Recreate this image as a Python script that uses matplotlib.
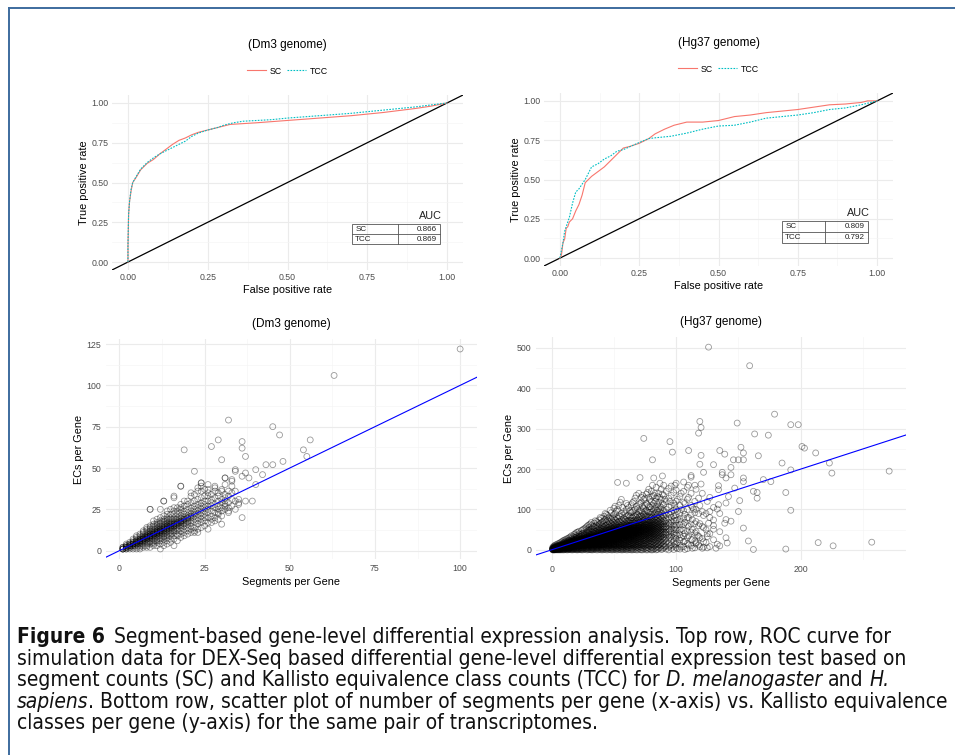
import matplotlib
matplotlib.use('Agg')
import matplotlib.pyplot as plt
from matplotlib.lines import Line2D
from matplotlib.patches import Rectangle

plt.rcParams['font.family'] = ['Liberation Sans', 'DejaVu Sans']

# ---------------- data ----------------
# ROC curves (false positive rate, true positive rate)
dm3_sc_fpr = [0, 0, 0.002, 0.005, 0.01, 0.015, 0.025, 0.04, 0.06, 0.08, 0.1, 0.12, 0.14, 0.16, 0.18, 0.2,
              0.22, 0.25, 0.28, 0.3, 0.32, 0.4, 0.5, 0.6, 0.7, 0.8, 0.9, 0.95, 1.0]
dm3_sc_tpr = [0, 0.1, 0.3, 0.38, 0.45, 0.5, 0.53, 0.58, 0.62, 0.645, 0.68, 0.71, 0.74, 0.765, 0.78, 0.8,
              0.815, 0.83, 0.845, 0.855, 0.865, 0.875, 0.89, 0.905, 0.92, 0.94, 0.965, 0.98, 1.0]
dm3_tcc_fpr = [0, 0, 0.002, 0.005, 0.01, 0.015, 0.025, 0.04, 0.06, 0.08, 0.1, 0.12, 0.14, 0.16, 0.18, 0.2,
               0.22, 0.25, 0.28, 0.3, 0.33, 0.36, 0.45, 0.5, 0.6, 0.7, 0.8, 0.9, 1.0]
dm3_tcc_tpr = [0, 0.1, 0.3, 0.38, 0.46, 0.5, 0.535, 0.585, 0.625, 0.655, 0.68, 0.7, 0.72, 0.74, 0.76, 0.79,
               0.81, 0.83, 0.845, 0.86, 0.875, 0.885, 0.895, 0.905, 0.92, 0.935, 0.955, 0.975, 1.0]

hg_sc_fpr = [0, 0.005, 0.01, 0.015, 0.02, 0.025, 0.03, 0.04, 0.05, 0.06, 0.07, 0.08, 0.09, 0.1, 0.12, 0.14,
             0.16, 0.18, 0.2, 0.22, 0.25, 0.28, 0.3, 0.33, 0.36, 0.4, 0.45, 0.5, 0.55, 0.6, 0.65, 0.7,
             0.75, 0.8, 0.85, 0.9, 0.95, 0.97, 1.0]
hg_sc_tpr = [0, 0.02, 0.1, 0.12, 0.19, 0.2, 0.23, 0.25, 0.3, 0.34, 0.4, 0.48, 0.5, 0.52, 0.55, 0.58,
             0.62, 0.66, 0.7, 0.71, 0.73, 0.76, 0.79, 0.82, 0.845, 0.865, 0.865, 0.875, 0.9, 0.91, 0.925, 0.935,
             0.945, 0.96, 0.975, 0.98, 0.99, 1.0, 1.0]
hg_tcc_fpr = [0, 0.005, 0.01, 0.015, 0.02, 0.03, 0.04, 0.05, 0.06, 0.07, 0.08, 0.1, 0.12, 0.14, 0.16, 0.18,
              0.2, 0.25, 0.28, 0.3, 0.35, 0.4, 0.45, 0.5, 0.55, 0.6, 0.65, 0.7, 0.75, 0.8, 0.85, 0.9,
              0.95, 1.0]
hg_tcc_tpr = [0, 0.05, 0.1, 0.17, 0.2, 0.26, 0.35, 0.42, 0.44, 0.47, 0.5, 0.58, 0.6, 0.63, 0.65, 0.68,
              0.69, 0.735, 0.76, 0.765, 0.775, 0.795, 0.82, 0.84, 0.845, 0.865, 0.89, 0.9, 0.91, 0.925, 0.945, 0.955,
              0.975, 1.0]

dm3_auc = [('SC', '0.866'), ('TCC', '0.869')]
hg_auc = [('SC', '0.809'), ('TCC', '0.792')]

# Dm3 scatter: segments per gene -> ECs per gene (one list of ECs for each segment count)
dm3_seg_cols = list(range(1, 36))
dm3_ec_cols = [
    [1, 1, 1, 1, 2, 2],
    [1, 1, 2, 2, 2, 3, 3, 4],
    [1, 2, 2, 3, 3, 3, 4, 4, 5],
    [1, 2, 3, 3, 4, 4, 4, 5, 5, 6, 7],
    [1, 2, 3, 4, 4, 5, 5, 5, 6, 6, 7, 8, 9],
    [1, 2, 3, 4, 5, 5, 6, 6, 6, 7, 7, 8, 9, 10],
    [2, 3, 4, 5, 6, 6, 7, 7, 7, 8, 8, 9, 10, 11, 12],
    [2, 3, 4, 5, 6, 7, 7, 8, 8, 8, 9, 9, 10, 11, 12, 13, 14],
    [2, 4, 5, 6, 7, 8, 8, 9, 9, 9, 10, 10, 11, 12, 13, 14, 15, 25],
    [3, 4, 5, 6, 7, 8, 9, 9, 10, 10, 10, 11, 11, 12, 13, 14, 15, 16, 18],
    [3, 5, 6, 7, 8, 9, 10, 10, 11, 11, 11, 12, 12, 13, 14, 15, 16, 17, 19],
    [1, 4, 6, 7, 8, 9, 10, 11, 11, 12, 12, 12, 13, 13, 14, 15, 16, 17, 18, 20, 25],
    [3, 5, 7, 8, 9, 10, 11, 12, 12, 13, 13, 14, 14, 15, 16, 17, 18, 19, 21, 30],
    [4, 6, 8, 9, 10, 11, 12, 13, 13, 14, 14, 15, 15, 16, 17, 18, 19, 20, 22, 24],
    [5, 7, 9, 10, 11, 12, 13, 14, 14, 15, 15, 16, 16, 17, 18, 19, 20, 22, 25],
    [3, 7, 9, 11, 12, 13, 14, 15, 15, 16, 16, 17, 18, 19, 20, 22, 24, 26, 32, 33],
    [6, 9, 10, 12, 13, 14, 15, 16, 16, 17, 17, 18, 19, 20, 22, 24, 26],
    [8, 10, 12, 14, 15, 16, 17, 17, 18, 18, 19, 20, 21, 23, 25, 26, 28, 39],
    [9, 11, 13, 15, 16, 17, 18, 19, 19, 20, 22, 24, 27, 30],
    [10, 12, 14, 16, 17, 18, 19, 20, 20, 21, 23, 25, 28, 30],
    [11, 13, 15, 17, 18, 20, 21, 22, 24, 26, 29, 33, 35],
    [11, 12, 14, 17, 19, 21, 22, 23, 25, 27, 30, 34],
    [11, 13, 16, 18, 20, 22, 24, 26, 28, 31, 36, 38],
    [14, 17, 19, 21, 23, 25, 27, 29, 32, 36, 39, 41],
    [15, 18, 20, 22, 24, 26, 28, 30, 33, 37],
    [13, 17, 20, 23, 25, 27, 30, 33, 35, 37],
    [17, 19, 21, 24, 27, 29, 31, 34],
    [18, 20, 23, 26, 28, 32, 36, 38, 39],
    [19, 22, 25, 27, 30, 33, 35],
    [21, 24, 26, 29, 31, 36, 37],
    [25, 27, 28, 30, 32, 34, 40, 44],
    [24, 26, 29, 33, 36],
    [27, 31, 35, 39],
    [25, 30, 36],
    [29, 31],
]
dm3_out_seg = [100, 63, 32, 45, 47, 29, 56, 36, 27, 36, 19, 54, 37, 55, 30, 48, 43, 45, 40, 34, 34, 22,
               42, 37, 36, 38, 31, 33, 33, 40, 18, 39, 37, 35, 30, 36, 32, 29, 13, 9, 24, 26]
dm3_out_ec = [122, 106, 79, 75, 70, 67, 67, 66, 63, 62, 61, 61, 57, 57, 55, 54, 52, 52, 49, 49, 48, 48,
              46, 47, 45, 44, 44, 42, 43, 40, 39, 30, 30, 28, 16, 20, 23, 23, 30, 25, 41, 40]

# Hg37 scatter, main columns
hg_seg_cols = [1, 2, 3, 4, 5, 6, 7, 8, 10, 12, 14, 16, 18, 20, 22, 24, 26, 28, 30, 32, 34, 36, 38, 40,
               42, 44, 46, 48, 50, 52, 54, 56, 58, 60, 62, 64, 66, 68, 70, 72, 74, 76, 78, 80, 82, 84,
               86, 88, 90, 92, 94, 96, 98, 100, 103, 106, 109, 112, 115, 118, 121, 124, 127, 130, 135, 140]
hg_ec_cols = [
    [0, 0, 1, 1, 2, 2, 3, 3, 4, 5, 7],
    [0, 0, 1, 1, 2, 2, 3, 3, 4, 5, 6, 8, 10],
    [0, 1, 1, 2, 2, 3, 3, 4, 4, 5, 6, 7, 9, 12],
    [0, 1, 2, 2, 3, 3, 4, 4, 5, 5, 6, 7, 8, 10, 13],
    [0, 1, 2, 3, 3, 4, 4, 5, 5, 6, 6, 7, 8, 9, 11, 15],
    [0, 1, 2, 3, 4, 4, 5, 5, 6, 6, 7, 7, 8, 9, 10, 12, 16],
    [0, 1, 2, 4, 5, 5, 6, 6, 7, 7, 8, 8, 9, 10, 11, 13, 18],
    [0, 2, 3, 4, 5, 6, 6, 7, 7, 8, 8, 9, 9, 10, 11, 12, 14, 20],
    [0, 1, 3, 4, 5, 6, 7, 8, 9, 10, 11, 12, 13, 14, 16, 19, 24],
    [0, 2, 3, 5, 6, 7, 8, 9, 10, 11, 12, 13, 14, 15, 16, 18, 21, 27],
    [1, 2, 4, 5, 7, 8, 9, 10, 11, 12, 13, 14, 15, 16, 17, 19, 21, 24, 30],
    [0, 2, 4, 6, 7, 9, 10, 11, 12, 13, 14, 15, 16, 17, 18, 20, 22, 25, 29, 35],
    [1, 3, 5, 7, 9, 10, 11, 13, 14, 15, 16, 17, 18, 19, 20, 22, 24, 27, 31, 38],
    [0, 2, 4, 6, 8, 10, 12, 13, 14, 15, 17, 18, 19, 20, 21, 23, 25, 28, 32, 36, 43],
    [1, 3, 5, 8, 10, 12, 14, 15, 16, 17, 18, 19, 21, 22, 23, 25, 27, 30, 34, 40, 46],
    [0, 2, 5, 7, 10, 12, 14, 15, 16, 18, 19, 20, 21, 23, 24, 26, 28, 31, 35, 39, 48],
    [1, 4, 6, 9, 11, 13, 15, 17, 18, 19, 21, 22, 23, 24, 26, 28, 30, 33, 37, 42, 52],
    [0, 3, 5, 8, 11, 13, 15, 17, 19, 20, 21, 23, 24, 25, 27, 29, 31, 34, 38, 44, 50, 57],
    [1, 4, 7, 10, 12, 15, 17, 19, 20, 22, 23, 25, 26, 28, 30, 32, 35, 39, 43, 48, 55, 62],
    [0, 2, 5, 8, 11, 14, 16, 18, 20, 22, 23, 25, 26, 28, 29, 31, 33, 36, 40, 45, 52, 60, 68],
    [1, 4, 7, 10, 13, 15, 18, 20, 22, 24, 25, 27, 29, 30, 32, 34, 37, 41, 46, 51, 58, 66],
    [0, 3, 6, 9, 12, 15, 18, 20, 22, 24, 26, 28, 29, 31, 33, 35, 38, 42, 47, 53, 61, 70],
    [2, 5, 8, 11, 14, 17, 20, 22, 24, 26, 28, 30, 32, 33, 35, 38, 41, 45, 50, 56, 63, 74],
    [0, 3, 7, 10, 13, 16, 19, 22, 24, 26, 28, 30, 32, 34, 36, 38, 41, 44, 48, 54, 60, 68, 78],
    [1, 5, 8, 12, 15, 18, 21, 24, 26, 28, 30, 32, 34, 36, 38, 40, 43, 47, 51, 57, 64, 72, 83],
    [0, 3, 6, 10, 14, 17, 20, 23, 26, 28, 30, 32, 34, 36, 38, 40, 42, 45, 49, 54, 61, 69, 79, 88],
    [2, 5, 9, 12, 16, 19, 22, 25, 28, 30, 32, 34, 36, 38, 40, 42, 44, 47, 51, 56, 62, 70, 81],
    [0, 4, 7, 11, 15, 18, 21, 24, 27, 30, 32, 34, 36, 38, 40, 42, 44, 46, 49, 53, 58, 65, 75, 92],
    [1, 5, 9, 13, 16, 20, 23, 26, 29, 32, 34, 36, 38, 40, 42, 44, 46, 48, 51, 55, 60, 67, 77, 87, 103],
    [0, 3, 7, 11, 15, 19, 22, 25, 28, 31, 34, 36, 38, 40, 42, 44, 46, 49, 52, 56, 62, 69, 80, 96],
    [2, 6, 10, 14, 18, 21, 25, 28, 31, 34, 37, 39, 41, 43, 45, 47, 50, 53, 57, 63, 71, 84, 110],
    [0, 4, 8, 12, 16, 20, 24, 27, 30, 33, 36, 38, 40, 42, 44, 46, 48, 51, 55, 60, 66, 75, 90, 125],
    [1, 5, 10, 14, 18, 22, 26, 29, 32, 35, 38, 40, 42, 44, 46, 48, 50, 53, 57, 62, 69, 78, 95],
    [0, 3, 8, 12, 17, 21, 25, 29, 32, 35, 38, 41, 43, 45, 47, 49, 52, 55, 59, 64, 71, 82, 100, 115],
    [2, 6, 11, 15, 20, 24, 28, 31, 34, 37, 40, 43, 45, 47, 49, 51, 54, 57, 61, 67, 74, 86, 105],
    [0, 4, 9, 14, 18, 23, 27, 31, 34, 37, 40, 43, 46, 48, 50, 53, 56, 60, 65, 71, 79, 92, 112],
    [1, 7, 12, 17, 21, 25, 29, 33, 36, 39, 42, 45, 48, 50, 52, 55, 58, 62, 67, 73, 83, 98, 120],
    [0, 5, 10, 15, 20, 25, 29, 33, 36, 40, 43, 46, 49, 51, 54, 57, 61, 66, 72, 80, 90, 108, 135],
    [3, 8, 13, 18, 23, 28, 32, 36, 40, 43, 46, 49, 52, 55, 58, 62, 67, 73, 81, 93, 112, 140],
    [0, 6, 12, 17, 22, 27, 32, 36, 40, 44, 47, 50, 53, 56, 60, 64, 69, 76, 85, 97, 118, 130],
    [2, 9, 15, 21, 26, 31, 35, 39, 43, 47, 50, 54, 57, 61, 66, 72, 79, 89, 102, 125],
    [0, 5, 12, 18, 24, 29, 34, 38, 42, 46, 50, 53, 57, 61, 65, 70, 77, 86, 98, 115, 138],
    [3, 10, 16, 22, 28, 33, 38, 42, 46, 50, 54, 58, 62, 67, 73, 81, 92, 107, 130, 150],
    [0, 7, 14, 20, 26, 31, 36, 41, 45, 49, 53, 57, 61, 66, 72, 79, 88, 101, 120, 145],
    [2, 9, 17, 24, 30, 35, 40, 45, 50, 55, 60, 65, 71, 78, 87, 99, 115, 135],
    [0, 6, 14, 22, 29, 35, 40, 46, 51, 56, 61, 67, 74, 82, 93, 108, 128, 155],
    [4, 12, 20, 28, 34, 40, 46, 52, 57, 63, 70, 78, 88, 101, 118, 140],
    [1, 9, 18, 26, 33, 40, 46, 52, 58, 64, 71, 80, 91, 105, 125, 150],
    [5, 14, 23, 31, 38, 45, 52, 58, 65, 73, 83, 96, 112, 135, 160],
    [2, 10, 20, 29, 37, 44, 51, 58, 66, 75, 86, 100, 120, 145],
    [0, 7, 17, 27, 36, 44, 52, 60, 68, 78, 90, 106, 128, 152],
    [4, 13, 24, 34, 43, 52, 61, 70, 81, 94, 110, 135, 158],
    [1, 9, 20, 31, 41, 51, 61, 72, 84, 98, 116, 142],
    [6, 16, 28, 39, 50, 61, 73, 86, 101, 120, 148, 165],
    [2, 12, 24, 37, 49, 62, 76, 92, 110, 132],
    [8, 20, 34, 48, 63, 79, 97, 118, 145, 168],
    [3, 15, 30, 46, 62, 80, 100, 125, 155],
    [10, 26, 44, 64, 86, 110, 140, 180],
    [5, 22, 42, 65, 92, 120, 160],
    [12, 34, 60, 90, 128],
    [4, 28, 58, 95, 140],
    [18, 50, 90],
    [8, 40, 80, 130],
    [25, 60, 105],
    [10, 45, 90],
    [30, 75],
]
# Hg37 scatter, in-between columns
hg_seg_cols2 = [9, 11, 13, 15, 17, 19, 21, 23, 25, 27, 29, 31, 33, 35, 37, 39, 41, 43, 45, 47, 49, 51, 53,
                55, 57, 59, 61, 63, 65, 67, 69, 71, 73, 75, 77, 79, 81, 83, 85, 87, 89, 91, 95, 99]
hg_ec_cols2 = [
    [0, 2, 4, 5, 6, 7, 8, 9, 10, 11, 12, 13, 15, 17, 22],
    [1, 3, 4, 6, 7, 8, 9, 10, 11, 12, 13, 14, 15, 17, 20, 25],
    [0, 2, 3, 5, 6, 8, 9, 10, 11, 12, 13, 14, 15, 16, 18, 20, 23, 28],
    [1, 3, 5, 6, 8, 9, 10, 11, 12, 13, 14, 15, 16, 17, 19, 21, 24, 32],
    [0, 2, 4, 6, 8, 10, 11, 12, 13, 14, 15, 16, 17, 18, 19, 21, 23, 26, 33],
    [1, 3, 6, 8, 10, 11, 12, 14, 15, 16, 17, 18, 19, 20, 22, 24, 26, 30, 40],
    [0, 2, 5, 7, 9, 11, 13, 14, 15, 16, 17, 18, 19, 20, 21, 23, 25, 28, 33, 44],
    [1, 4, 6, 9, 11, 13, 15, 16, 17, 18, 19, 20, 21, 22, 24, 26, 29, 33, 38],
    [0, 3, 5, 8, 10, 13, 15, 16, 17, 18, 20, 21, 22, 23, 25, 27, 30, 34, 41, 50],
    [2, 4, 7, 10, 12, 14, 16, 18, 19, 20, 22, 23, 24, 26, 28, 31, 35, 40, 54],
    [0, 3, 6, 9, 12, 14, 16, 18, 20, 21, 22, 24, 25, 27, 29, 32, 36, 42, 47, 60],
    [1, 5, 8, 11, 13, 16, 18, 20, 21, 23, 24, 26, 27, 29, 31, 34, 38, 44, 51, 64],
    [0, 3, 6, 9, 12, 15, 17, 19, 21, 23, 25, 26, 28, 30, 32, 35, 39, 44, 49, 57],
    [2, 5, 8, 11, 14, 17, 19, 21, 23, 25, 27, 28, 30, 32, 34, 37, 41, 46, 55, 72],
    [0, 4, 7, 10, 13, 16, 19, 21, 23, 25, 27, 29, 30, 32, 34, 37, 40, 44, 50, 58, 67],
    [1, 5, 9, 12, 15, 18, 21, 23, 25, 27, 29, 31, 33, 35, 37, 40, 43, 48, 53, 65, 80],
    [0, 3, 7, 11, 14, 17, 20, 23, 25, 27, 29, 31, 33, 35, 37, 39, 42, 46, 52, 59, 70],
    [2, 6, 9, 13, 16, 19, 22, 25, 27, 29, 31, 33, 35, 37, 39, 41, 44, 48, 53, 60, 75, 90],
    [0, 4, 8, 11, 15, 18, 21, 24, 27, 29, 31, 33, 35, 37, 39, 41, 43, 46, 50, 55, 63, 73, 85],
    [1, 5, 10, 13, 17, 20, 23, 26, 29, 31, 33, 35, 37, 39, 41, 43, 45, 48, 52, 58, 66, 78, 98],
    [0, 3, 8, 12, 16, 19, 22, 25, 28, 31, 33, 35, 37, 39, 41, 43, 45, 47, 50, 54, 60, 70, 82],
    [2, 6, 10, 14, 18, 21, 24, 27, 30, 33, 35, 37, 39, 41, 43, 45, 47, 50, 53, 58, 64, 74, 90, 108],
    [0, 4, 9, 13, 17, 20, 24, 27, 30, 33, 35, 38, 40, 42, 44, 46, 48, 51, 55, 60, 68, 78, 100],
    [1, 5, 10, 15, 19, 23, 26, 29, 32, 35, 37, 39, 41, 43, 45, 47, 49, 52, 56, 61, 70, 82, 118],
    [0, 3, 8, 13, 17, 21, 25, 28, 31, 34, 37, 39, 41, 43, 45, 47, 50, 53, 57, 63, 72, 86, 105],
    [2, 7, 11, 16, 20, 24, 27, 31, 34, 36, 39, 41, 43, 45, 48, 50, 53, 56, 60, 66, 75, 90],
    [0, 5, 9, 14, 19, 23, 27, 30, 33, 36, 39, 42, 44, 46, 48, 50, 53, 56, 60, 65, 72, 84, 110],
    [1, 6, 11, 16, 21, 25, 29, 32, 35, 38, 41, 44, 46, 48, 51, 54, 57, 61, 66, 73, 82, 96],
    [0, 4, 10, 15, 19, 24, 28, 32, 35, 38, 41, 44, 47, 49, 51, 54, 57, 61, 66, 72, 80, 94, 117],
    [2, 8, 13, 18, 23, 27, 31, 35, 38, 41, 44, 47, 49, 52, 55, 58, 62, 67, 74, 84, 100, 128],
    [0, 6, 11, 16, 21, 26, 30, 34, 38, 41, 44, 47, 50, 53, 56, 59, 63, 68, 76, 86, 102],
    [1, 7, 14, 19, 24, 29, 33, 37, 41, 44, 47, 50, 53, 56, 60, 64, 69, 75, 84, 96, 115],
    [0, 5, 11, 17, 23, 28, 33, 37, 41, 45, 48, 52, 55, 58, 62, 67, 73, 81, 92, 108, 135],
    [3, 9, 16, 22, 27, 32, 37, 41, 45, 49, 52, 56, 60, 64, 69, 75, 83, 94, 110, 128],
    [0, 6, 13, 20, 26, 31, 36, 40, 44, 48, 52, 56, 60, 64, 69, 75, 83, 95, 112, 142],
    [2, 9, 16, 23, 29, 34, 39, 43, 47, 51, 55, 59, 63, 68, 74, 82, 93, 106, 125],
    [0, 5, 13, 20, 27, 33, 38, 43, 48, 52, 56, 60, 64, 69, 75, 83, 94, 110, 132, 160],
    [3, 11, 19, 26, 32, 38, 43, 48, 53, 58, 63, 68, 74, 81, 90, 103, 120, 140],
    [1, 8, 16, 24, 31, 37, 43, 49, 54, 59, 65, 71, 78, 87, 98, 112, 132],
    [5, 13, 22, 30, 37, 43, 49, 55, 61, 67, 74, 83, 94, 108, 130, 165],
    [2, 11, 20, 28, 36, 43, 50, 56, 62, 69, 77, 87, 99, 115, 138],
    [8, 26, 42, 56, 71, 92, 125],
    [10, 31, 48, 65, 87, 120],
    [13, 36, 56, 79, 110, 160],
]
# Hg37 scatter, thinning tail beyond 100 segments
hg_seg_cols3 = [101, 104, 107, 110, 113, 116, 119, 122, 125]
hg_ec_cols3 = [
    [3, 18, 35, 55, 75, 95, 125],
    [7, 30, 52, 70, 100, 140],
    [1, 22, 40, 68, 88, 115],
    [12, 35, 58, 80, 130, 160],
    [4, 25, 50, 75, 105],
    [15, 45, 70, 100, 150],
    [8, 30, 65, 110],
    [20, 55, 85],
    [5, 40, 120],
]
hg_out_seg = [126, 159, 179, 119, 120, 198, 192, 149, 118, 163, 174, 74, 95, 97, 110, 135, 139, 152, 154,
              201, 203, 212, 166, 120, 119, 130, 146, 150, 154, 144, 81, 185, 223, 225, 271, 192, 144, 137,
              89, 82, 71, 112, 122, 154, 154, 170, 176, 53, 60, 188, 162, 165, 165, 151, 192, 150, 127,
              139, 144, 154, 130, 158, 141, 133, 214, 257, 226, 162, 188, 132, 122, 116, 125, 117, 126,
              130, 133, 114, 134, 140, 142, 134, 120, 134, 147, 137, 140]
hg_out_ec = [502, 456, 336, 318, 303, 310, 310, 314, 289, 287, 284, 276, 268, 242, 246, 246, 237, 254, 240,
             256, 252, 240, 233, 234, 212, 211, 223, 223, 223, 204, 223, 215, 215, 190, 195, 198, 186, 186,
             183, 178, 179, 184, 192, 178, 169, 174, 169, 167, 165, 142, 145, 142, 128, 122, 98, 95, 95,
             66, 71, 54, 51, 22, 17, 14, 18, 19, 10, 1, 2, 4, 7, 18, 33, 36, 66,
             74, 101, 101, 112, 116, 132, 149, 163, 159, 153, 192, 178]

# ---------------- figure ----------------
W, H = 955, 755
fig = plt.figure(figsize=(W / 100, H / 100), dpi=100)

SC_COL = '#F8766D'
TCC_COL = '#00BFC4'
TICK_COL = '#4D4D4D'


def px_axes(x0, y0, x1, y1):
    return fig.add_axes([x0 / W, 1 - y1 / H, (x1 - x0) / W, (y1 - y0) / H])


def minimal(ax, xt, xl, yt, yl, xminor, yminor, pad=2.5):
    for s in ax.spines.values():
        s.set_visible(False)
    ax.set_xticks(xt)
    ax.set_xticklabels(xl)
    ax.set_yticks(yt)
    ax.set_yticklabels(yl)
    ax.set_xticks(xminor, minor=True)
    ax.set_yticks(yminor, minor=True)
    ax.grid(which='major', color='#EBEBEB', lw=0.8)
    ax.grid(which='minor', color='#F5F5F5', lw=0.5)
    ax.set_axisbelow(True)
    ax.tick_params(which='both', length=0, labelsize=6.3, labelcolor=TICK_COL, pad=pad)


def roc_panel(ax, title, sc, tcc, auc, tbl):
    minimal(ax, [0, 0.25, 0.5, 0.75, 1], ['0.00', '0.25', '0.50', '0.75', '1.00'],
            [0, 0.25, 0.5, 0.75, 1], ['0.00', '0.25', '0.50', '0.75', '1.00'],
            [0.125, 0.375, 0.625, 0.875], [0.125, 0.375, 0.625, 0.875])
    ax.set_xlim(-0.05, 1.05)
    ax.set_ylim(-0.05, 1.05)
    ax.axline((0, 0), (1, 1), color='black', lw=0.9)
    ax.plot(sc[0], sc[1], color=SC_COL, lw=0.8)
    ax.plot(tcc[0], tcc[1], color=TCC_COL, lw=0.8, ls=(0, (1.5, 1.2)))
    ax.set_xlabel('False positive rate', fontsize=7.8, labelpad=2)
    ax.set_ylabel('True positive rate', fontsize=7.8, labelpad=2)
    hh = ax.get_position().height * H
    ax.text(0.5, 1 + 50 / hh, title, transform=ax.transAxes, ha='center', va='center', fontsize=8.5)
    handles = [Line2D([], [], color=SC_COL, lw=0.8),
               Line2D([], [], color=TCC_COL, lw=0.8, ls=(0, (1.5, 1.2)))]
    ax.legend(handles, ['SC', 'TCC'], loc='center', bbox_to_anchor=(0.5, 1 + 24 / hh), ncol=2,
              frameon=False, fontsize=6.3, handlelength=2.2, columnspacing=0.6, handletextpad=0.4)
    # AUC table
    x0, xm, x1, ytop, ymid, ybot, yauc = tbl
    ax.text(x1 + 0.005, yauc, 'AUC', ha='right', va='center', fontsize=7.8, color='#222222')
    ax.add_patch(Rectangle((x0, ybot), x1 - x0, ytop - ybot, fill=False, ec='#555555', lw=0.6))
    ax.plot([x0, x1], [ymid, ymid], color='#555555', lw=0.6)
    ax.plot([xm, xm], [ybot, ytop], color='#555555', lw=0.6)
    for (name, val), yc in zip(auc, [(ytop + ymid) / 2, (ymid + ybot) / 2]):
        ax.text(x0 + 0.01, yc, name, ha='left', va='center', fontsize=5.8, color='#222222')
        ax.text(x1 - 0.01, yc, val, ha='right', va='center', fontsize=5.8, color='#222222')


ax1 = px_axes(112, 95, 463, 270)
roc_panel(ax1, '(Dm3 genome)', (dm3_sc_fpr, dm3_sc_tpr), (dm3_tcc_fpr, dm3_tcc_tpr), dm3_auc,
          (0.702, 0.846, 0.978, 0.239, 0.176, 0.113, 0.289))

ax2 = px_axes(544, 93, 893, 266)
roc_panel(ax2, '(Hg37 genome)', (hg_sc_fpr, hg_sc_tpr), (hg_tcc_fpr, hg_tcc_tpr), hg_auc,
          (0.700, 0.836, 0.972, 0.236, 0.166, 0.096, 0.287))


def scatter_panel(ax, title, col_sets, out_seg, out_ec):
    xs, ys = [], []
    for seg_cols, ec_cols in col_sets:
        for s, ecs in zip(seg_cols, ec_cols):
            xs += [s] * len(ecs)
            ys += ecs
    xs += out_seg
    ys += out_ec
    ax.scatter(xs, ys, s=18, facecolors='none', edgecolors='black', linewidths=0.6, alpha=0.4)
    ax.axline((0, 0), (1, 1), color='blue', lw=0.8)
    ax.set_xlabel('Segments per Gene', fontsize=7.8, labelpad=3)
    ax.set_ylabel('ECs per Gene', fontsize=7.8, labelpad=2)
    hh = ax.get_position().height * H
    ax.text(0.5, 1 + 15 / hh, title, transform=ax.transAxes, ha='center', va='center', fontsize=8.5)


ax3 = px_axes(106, 339, 477, 559)
minimal(ax3, [0, 25, 50, 75, 100], ['0', '25', '50', '75', '100'],
        [0, 25, 50, 75, 100, 125], ['0', '25', '50', '75', '100', '125'],
        [12.5, 37.5, 62.5, 87.5], [12.5, 37.5, 62.5, 87.5, 112.5], pad=3.5)
ax3.set_xlim(-3.95, 104.95)
ax3.set_ylim(-5.05, 128.05)
scatter_panel(ax3, '(Dm3 genome)', [(dm3_seg_cols, dm3_ec_cols)], dm3_out_seg, dm3_out_ec)

ax4 = px_axes(536, 337, 906, 560)
minimal(ax4, [0, 100, 200], ['0', '100', '200'],
        [0, 100, 200, 300, 400, 500], ['0', '100', '200', '300', '400', '500'],
        [50, 150, 250], [50, 150, 250, 350, 450], pad=3.5)
ax4.set_xlim(-12.5, 284.5)
ax4.set_ylim(-25.1, 527.1)
scatter_panel(ax4, '(Hg37 genome)',
              [(hg_seg_cols, hg_ec_cols), (hg_seg_cols2, hg_ec_cols2), (hg_seg_cols3, hg_ec_cols3)],
              hg_out_seg, hg_out_ec)

# page frame
fig.add_artist(Line2D([9 / W, 9 / W], [0, 1 - 8 / H], color='#3d6b9e', lw=1.4))
fig.add_artist(Line2D([9 / W, 1], [1 - 8 / H, 1 - 8 / H], color='#3d6b9e', lw=1.4))

# ---------------- caption ----------------
cap_font = ['DejaVu Sans', 'Liberation Sans']
cap_stretch = 'condensed'
caption = [
    [('Figure 6', 'normal', 'bold', 1.6), ('Segment-based gene-level differential expression analysis. '
                                           'Top row, ROC curve for', 'normal', 'normal', 0)],
    [('simulation data for DEX-Seq based differential gene-level differential expression test based on',
      'normal', 'normal', 0)],
    [('segment counts (SC) and Kallisto equivalence class counts (TCC) for', 'normal', 'normal', 1),
     ('D. melanogaster', 'italic', 'normal', 1), ('and', 'normal', 'normal', 1), ('H.', 'italic', 'normal', 0)],
    [('sapiens', 'italic', 'normal', 0), ('. Bottom row, scatter plot of number of segments per gene (x-axis) '
                                         'vs. Kallisto equivalence', 'normal', 'normal', 0)],
    [('classes per gene (y-axis) for the same pair of transcriptomes.', 'normal', 'normal', 0)],
]
renderer = fig.canvas.get_renderer()


def run_width(txt, style, weight, size):
    t = fig.text(0, 0, txt, fontsize=size, style=style, weight=weight, family=cap_font,
                 fontstretch=cap_stretch)
    w = t.get_window_extent(renderer=renderer).width
    t.remove()
    return w


def line_width(runs, size):
    sp = run_width('x x', 'normal', 'normal', size) - run_width('xx', 'normal', 'normal', size)
    return sum(run_width(t, s, w, size) + gap * sp for t, s, w, gap in runs), sp


base = 12
w4, _ = line_width(caption[3], base)
cap_size = base * 930 / w4
line_y = [637, 659, 680, 702, 723]
for runs, yy in zip(caption, line_y):
    _, sp = line_width(runs, cap_size)
    x = 17
    for txt, style, weight, gap in runs:
        fig.text(x / W, 1 - yy / H, txt, fontsize=cap_size, style=style, weight=weight,
                 family=cap_font, fontstretch=cap_stretch, ha='left', va='center', color='#111111')
        x += run_width(txt, style, weight, cap_size) + gap * sp

fig.savefig('out.png', dpi=100)
